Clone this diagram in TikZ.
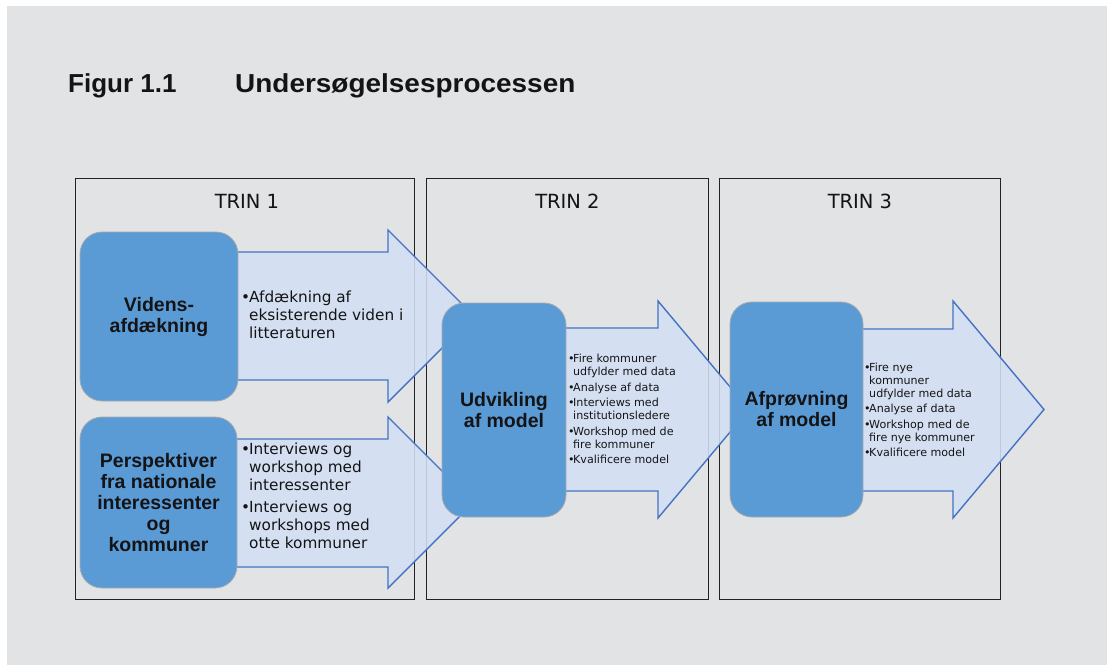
\documentclass[tikz,border=0pt]{standalone}
\usepackage{fontspec}
\usepackage{graphicx}
\setmainfont{DejaVu Sans}
\newfontfamily\headfont{Liberation Sans}
\usetikzlibrary{calc}

\definecolor{pagebg}{RGB}{226,227,229}
\definecolor{boxfill}{RGB}{91,155,213}
\definecolor{boxline}{RGB}{165,170,176}
\definecolor{arrowfill}{RGB}{211,224,243}
\definecolor{arrowline}{RGB}{68,114,196}
\definecolor{frameline}{RGB}{34,34,36}
\definecolor{ink}{RGB}{20,20,22}

\pgfdeclarelayer{bg}
\pgfdeclarelayer{frames}
\pgfdeclarelayer{arrows}
\pgfsetlayers{bg,frames,arrows,main}

% bullet lists: \bl starts an item, \ind indents a continued line
\newlength\bulw
\newcommand\bl{\makebox[\bulw][l]{\textbullet}}
\newcommand\ind{\hspace*{\bulw}}

\tikzset{
  colframe/.style={draw=frameline, line width=0.9pt, anchor=north west, inner sep=0pt},
  trinlabel/.style={anchor=base, inner sep=0pt, text=ink, font=\fontsize{19.5}{22}\selectfont},
  stepbox/.style={draw=boxline, line width=0.8pt, fill=boxfill, rounded corners=22pt,
    align=center, inner sep=0pt, text=ink, font=\headfont\bfseries\fontsize{19.5}{21}\selectfont},
  blockarrow/.style={draw=arrowline, line width=1.4pt, line join=miter, fill=arrowfill, fill opacity=0.88},
  biglist/.style={anchor=west, inner sep=0pt, align=left, text=ink,
    font=\fontsize{15.3}{18}\selectfont\setlength\bulw{8pt}},
  smalllist/.style={anchor=west, inner sep=0pt, align=left, text=ink,
    font=\fontsize{11.1}{13}\selectfont\setlength\bulw{5pt}},
  titletext/.style={anchor=base west, inner sep=0pt, text=ink,
    font=\headfont\bfseries\fontsize{26}{30}\selectfont}
}

\begin{document}
\begin{tikzpicture}[x=1pt, y=-1pt]
\useasboundingbox (0,0) rectangle (1107,666);
\begin{pgfonlayer}{bg}
\fill[white] (0,0) rectangle (1107,666);
\fill[pagebg] (7,6) rectangle (1107,665);
\end{pgfonlayer}

% heading
\node[titletext] (fignum) at (68,93) {Figur 1.1};
\node[titletext] (figtitle) at (235,93) {\scalebox{1.075}[1]{Undersøgelsesprocessen}};

% the three stage columns
\begin{pgfonlayer}{frames}
\node[colframe, minimum width=339pt, minimum height=421pt] (col1) at (75,178) {};
\node[colframe, minimum width=282pt, minimum height=421pt] (col2) at (426,178) {};
\node[colframe, minimum width=281pt, minimum height=421pt] (col3) at (719,178) {};
\end{pgfonlayer}
\node[trinlabel] (trin1) at ($(col1.north)+(2,30.5)$) {TRIN 1};
\node[trinlabel] (trin2) at ($(col2.north)+(0,30.5)$) {TRIN 2};
\node[trinlabel] (trin3) at ($(col3.north)+(0,30.5)$) {TRIN 3};

% rounded step boxes
\node[stepbox, minimum width=158pt, minimum height=169pt] (videns) at (159,316.5) {Videns-\\afdækning};
\node[stepbox, minimum width=157pt, minimum height=171pt] (persp) at (158.5,502.5)
  {Perspektiver\\fra nationale\\interessenter\\og\\kommuner};
\node[stepbox, minimum width=124pt, minimum height=214pt] (udv) at (504,410) {Udvikling\\af model};
\node[stepbox, minimum width=133pt, minimum height=215pt] (afp) at (796.5,409.5) {Afprøvning\\af model};

% block arrows between the steps
\begin{pgfonlayer}{arrows}
\path[blockarrow] ($(videns.east)+(-6,-64.5)$) -- (388,252) -- (388,230) -- (474,316)
  -- (388,402) -- (388,380) -- ($(videns.east)+(-6,63.5)$) -- cycle;
\path[blockarrow] ($(persp.east)+(-6,-63.5)$) -- (388,439) -- (388,417) -- (473.5,502.5)
  -- (388,588) -- (388,567) -- ($(persp.east)+(-6,64.5)$) -- cycle;
\path[blockarrow] ($(udv.east)+(-6,-82)$) -- (658,328) -- (658,301) -- (749,409.5)
  -- (658,518) -- (658,491) -- ($(udv.east)+(-6,81)$) -- cycle;
\path[blockarrow] ($(afp.east)+(-6,-80.5)$) -- (953,329) -- (953,301) -- (1044,409.5)
  -- (953,518) -- (953,491) -- ($(afp.east)+(-6,81.5)$) -- cycle;
\end{pgfonlayer}

% activity lists
\node[biglist] (list1) at (241,315) {%
  \bl Afdækning af\\\ind eksisterende viden i\\\ind litteraturen};
\node[biglist] (list2) at (241,496) {%
  \bl Interviews og\\\ind workshop med\\\ind interessenter\\[4pt]
  \bl Interviews og\\\ind workshops med\\\ind otte kommuner};
\node[smalllist] (list3) at (568,409) {%
  \bl Fire kommuner\\\ind udfylder med data\\[2.5pt]
  \bl Analyse af data\\[2.5pt]
  \bl Interviews med\\\ind institutionsledere\\[2.5pt]
  \bl Workshop med de\\\ind fire kommuner\\[2.5pt]
  \bl Kvalificere model};
\node[smalllist] (list4) at (864,410) {%
  \bl Fire nye\\\ind kommuner\\\ind udfylder med data\\[2.5pt]
  \bl Analyse af data\\[2.5pt]
  \bl Workshop med de\\\ind fire nye kommuner\\[2.5pt]
  \bl Kvalificere model};
\end{tikzpicture}
\end{document}
